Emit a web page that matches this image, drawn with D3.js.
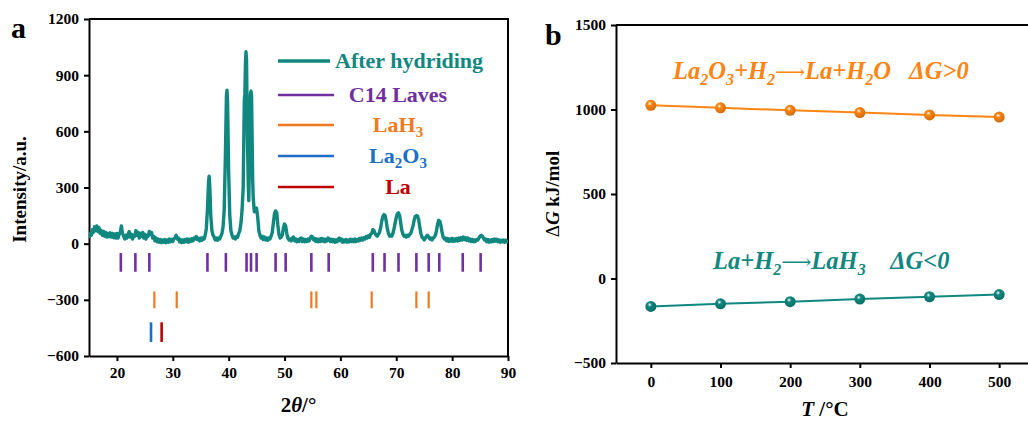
<!DOCTYPE html>
<meta charset="utf-8">
<style>
body { margin: 0; background: white; }
svg { font-family: "Liberation Serif", "Times New Roman", serif; }
.axis text { font-family: "Liberation Serif", "Times New Roman", serif; font-size: 15.5px; font-weight: bold; fill: black; }
.axis path, .axis line { stroke: black; stroke-width: 2px; }
</style>
<body>
<script src="https://d3js.org/d3.v7.min.js"></script>
<script>

// panel a: XRD pattern after hydriding, [2theta, intensity]
const xrdPattern = [
  [15.0,30],[15.2,55],[15.4,45],[15.6,75],[15.8,60],[16.0,90],[16.2,70],[16.4,95],[16.6,65],[16.8,85],
  [17.0,55],[17.2,70],[17.4,45],[17.6,65],[17.8,40],[18.0,60],[18.2,35],[18.4,55],[18.6,38],[18.8,58],
  [19.0,35],[19.2,55],[19.4,32],[19.6,52],[19.8,30],[20.0,55],[20.2,30],[20.4,50],[20.6,60],[20.8,95],
  [21.0,55],[21.2,40],[21.4,25],[21.6,45],[21.8,30],[22.0,50],[22.2,65],[22.4,35],[22.6,50],[22.8,25],
  [23.0,45],[23.2,40],[23.4,70],[23.6,45],[23.8,60],[24.0,30],[24.2,55],[24.4,40],[24.6,60],[24.8,30],
  [25.0,50],[25.2,25],[25.4,45],[25.6,40],[25.8,65],[26.0,50],[26.2,60],[26.4,30],[26.6,40],[26.8,15],
  [27.0,30],[27.2,10],[27.4,25],[27.6,8],[27.8,22],[28.0,5],[28.2,20],[28.4,8],[28.6,22],[28.8,5],
  [29.0,20],[29.2,8],[29.4,25],[29.6,10],[29.8,22],[30.0,12],[30.2,28],[30.4,30],[30.6,45],[30.8,25],
  [31.0,30],[31.2,10],[31.4,22],[31.6,5],[31.8,20],[32.0,8],[32.2,22],[32.4,10],[32.6,25],[32.8,8],
  [33.0,24],[33.2,12],[33.4,26],[33.6,15],[33.8,30],[34.0,25],[34.2,38],[34.4,22],[34.6,28],[34.8,15],
  [35.0,30],[35.2,18],[35.4,32],[35.6,25],[35.8,45],[36.0,80],[36.2,180],[36.4,330],[36.5,360],[36.6,320],
  [36.8,150],[37.0,70],[37.2,45],[37.4,35],[37.6,20],[37.8,30],[38.0,18],[38.2,30],[38.4,25],[38.6,40],
  [38.8,55],[39.0,90],[39.2,180],[39.4,450],[39.6,790],[39.7,820],[39.8,760],[40.0,380],[40.2,150],[40.4,70],
  [40.6,45],[40.8,30],[41.0,35],[41.2,25],[41.4,38],[41.6,35],[41.8,55],[42.0,70],[42.2,110],[42.4,180],
  [42.6,300],[42.8,760],[42.9,800],[43.0,960],[43.1,1025],[43.2,980],[43.3,700],[43.4,500],[43.5,330],[43.6,230],
  [43.7,400],[43.8,700],[43.9,800],[44.0,815],[44.1,790],[44.2,560],[44.3,340],[44.4,240],[44.6,170],[44.8,180],
  [45.0,190],[45.2,140],[45.4,70],[45.6,45],[45.8,30],[46.0,40],[46.2,22],[46.4,35],[46.6,20],[46.8,30],
  [47.0,18],[47.2,30],[47.4,25],[47.6,40],[47.8,60],[48.0,110],[48.2,160],[48.4,175],[48.6,165],[48.8,100],
  [49.0,50],[49.2,30],[49.4,35],[49.6,45],[49.8,85],[50.0,105],[50.2,95],[50.4,55],[50.6,30],[50.8,20],
  [51.0,25],[51.2,15],[51.4,30],[51.6,35],[51.8,15],[52.0,25],[52.2,10],[52.4,22],[52.6,12],[52.8,28],
  [53.0,30],[53.2,12],[53.4,25],[53.6,10],[53.8,22],[54.0,12],[54.2,25],[54.4,15],[54.6,30],[54.8,40],
  [55.0,35],[55.2,20],[55.4,28],[55.6,12],[55.8,25],[56.0,10],[56.2,24],[56.4,12],[56.6,28],[56.8,14],
  [57.0,25],[57.2,10],[57.4,24],[57.6,15],[57.8,30],[58.0,25],[58.2,12],[58.4,24],[58.6,10],[58.8,22],
  [59.0,8],[59.2,20],[59.4,10],[59.6,25],[59.8,30],[60.0,15],[60.2,25],[60.4,8],[60.6,20],[60.8,10],
  [61.0,22],[61.2,8],[61.4,20],[61.6,10],[61.8,24],[62.0,12],[62.2,22],[62.4,10],[62.6,25],[62.8,12],
  [63.0,22],[63.2,14],[63.4,28],[63.6,18],[63.8,30],[64.0,20],[64.2,32],[64.4,25],[64.6,38],[64.8,30],
  [65.0,42],[65.2,35],[65.4,50],[65.6,55],[65.8,75],[66.0,70],[66.2,55],[66.4,45],[66.6,40],[66.8,50],
  [67.0,60],[67.2,85],[67.4,120],[67.6,145],[67.8,155],[68.0,150],[68.2,120],[68.4,80],[68.6,55],[68.8,40],
  [69.0,45],[69.2,40],[69.4,55],[69.6,80],[69.8,110],[70.0,140],[70.2,160],[70.4,165],[70.6,150],[70.8,110],
  [71.0,70],[71.2,50],[71.4,40],[71.6,45],[71.8,35],[72.0,45],[72.2,40],[72.4,50],[72.6,55],[72.8,75],
  [73.0,95],[73.2,125],[73.4,145],[73.6,150],[73.8,148],[74.0,130],[74.2,90],[74.4,55],[74.6,35],[74.8,30],
  [75.0,20],[75.2,30],[75.4,40],[75.6,45],[75.8,35],[76.0,25],[76.2,30],[76.4,20],[76.6,30],[76.8,35],
  [77.0,45],[77.2,70],[77.4,105],[77.6,125],[77.8,120],[78.0,95],[78.2,60],[78.4,35],[78.6,25],[78.8,30],
  [79.0,15],[79.2,28],[79.4,12],[79.6,25],[79.8,14],[80.0,28],[80.2,12],[80.4,25],[80.6,15],[80.8,28],
  [81.0,14],[81.2,30],[81.4,18],[81.6,32],[81.8,20],[82.0,35],[82.2,22],[82.4,32],[82.6,18],[82.8,30],
  [83.0,15],[83.2,25],[83.4,12],[83.6,22],[83.8,10],[84.0,20],[84.2,12],[84.4,22],[84.6,20],[84.8,30],
  [85.0,40],[85.2,45],[85.4,40],[85.6,30],[85.8,20],[86.0,25],[86.2,10],[86.4,22],[86.6,8],[86.8,20],
  [87.0,10],[87.2,22],[87.4,12],[87.6,25],[87.8,14],[88.0,24],[88.2,10],[88.4,20],[88.6,8],[88.8,18],
  [89.0,10],[89.2,20],[89.4,8],[89.6,18],[89.8,10],[90.0,15]
]

// reference peak positions (2theta)
const c14Peaks = [20.7, 23.3, 25.8, 36.2, 39.5, 43.2, 44.0, 45.0, 48.4, 50.2, 54.8, 57.9,
  65.8, 67.9, 70.4, 73.6, 75.8, 77.7, 81.9, 85.1]
const lah3Peaks = [26.7, 30.7, 54.8, 55.7, 65.6, 73.6, 75.8]
const la2o3Peaks = [26.1]
const laPeaks = [28.0]

const phaseNames = ['C14 Laves', 'LaH3', 'La2O3', 'La']

// panel b: Gibbs free energy vs temperature
const temps = [0, 100, 200, 300, 400, 500]
const dgOxide = [1025, 1010, 995, 982, 968, 955]
const dgHydride = [-165, -150, -137, -122, -108, -95]

const xTicksA = [20, 30, 40, 50, 60, 70, 80, 90]
const yTicksA = [-600, -300, 0, 300, 600, 900, 1200]
const yTicksB = [-500, 0, 500, 1000, 1500]

const teal = '#10877f'
const purple = '#7030a0'
const orange = '#ef7a22'
const blue = '#1c6fc6'
const red = '#c00000'
const orangeB = '#ff8412'
const serif = '"Liberation Serif", "Times New Roman", serif'

const svg = d3.select('body').append('svg')
  .attr('width', 1028)
  .attr('height', 422)

function styleAxis(g) {
  g.attr('font-family', serif).attr('font-size', 15)
}

// ---------- panel a ----------
const xA = d3.scaleLinear().domain([15, 90]).range([89, 508])
const yA = d3.scaleLinear().domain([-600, 1200]).range([356, 19])

const gA = svg.append('g')

gA.append('g').attr('class', 'axis')
  .attr('transform', `translate(0,${yA(-600)})`)
  .call(d3.axisBottom(xA).tickValues(xTicksA).tickFormat(d3.format('d'))
    .tickSize(5).tickSizeOuter(0).tickPadding(6))
  .call(styleAxis)
gA.append('g').attr('class', 'axis')
  .attr('transform', `translate(${xA(15)},0)`)
  .call(d3.axisLeft(yA).tickValues(yTicksA).tickFormat(d3.format('d'))
    .tickSize(5).tickSizeOuter(0).tickPadding(5))
  .call(styleAxis)

// top and right frame
gA.append('path')
  .attr('d', `M${xA(15)},${yA(1200)}H${xA(90)}V${yA(-600)}`)
  .attr('fill', 'none').attr('stroke', 'black').attr('stroke-width', 2)

const clipA = svg.append('clipPath').attr('id', 'clipA')
clipA.append('rect').attr('x', xA(15)).attr('y', yA(1200))
  .attr('width', xA(90) - xA(15)).attr('height', yA(-600) - yA(1200))

gA.append('path')
  .datum(xrdPattern)
  .attr('clip-path', 'url(#clipA)')
  .attr('fill', 'none')
  .attr('stroke', teal)
  .attr('stroke-width', 3.4)
  .attr('stroke-linejoin', 'round')
  .attr('d', d3.line().x(d => xA(d[0])).y(d => yA(d[1])))

// phase tick rows
const rows = [
  { peaks: c14Peaks, color: purple, y0: -50, y1: -150, w: 2.6 },
  { peaks: lah3Peaks, color: orange, y0: -255, y1: -345, w: 2.2 },
  { peaks: la2o3Peaks, color: blue, y0: -420, y1: -525, w: 2.6 },
  { peaks: laPeaks, color: red, y0: -420, y1: -525, w: 2.6 }
]
rows.forEach(r => {
  gA.append('g').selectAll('line')
    .data(r.peaks)
    .join('line')
    .attr('x1', d => xA(d)).attr('x2', d => xA(d))
    .attr('y1', yA(r.y0)).attr('y2', yA(r.y1))
    .attr('stroke', r.color).attr('stroke-width', r.w)
})

// legend
const legend = gA.append('g')
const legendItems = [
  { name: 'After hydriding', color: teal, y: 61, w: 3.4 },
  { name: phaseNames[0], color: purple, y: 95, w: 2.4 },
  { name: phaseNames[1], color: orange, y: 125, w: 2.4 },
  { name: phaseNames[2], color: blue, y: 156, w: 2.4 },
  { name: phaseNames[3], color: red, y: 187, w: 2.4 }
]
legendItems.forEach((d, i) => {
  legend.append('line')
    .attr('x1', 278).attr('x2', i === 0 ? 330 : 334)
    .attr('y1', d.y).attr('y2', d.y)
    .attr('stroke', d.color).attr('stroke-width', d.w)
  const t = legend.append('text')
    .attr('y', d.y + 7)
    .attr('fill', d.color)
    .attr('font-weight', 'bold')
    .attr('font-size', 22)
  if (i === 0) {
    t.attr('x', 335).text(d.name)
  } else {
    t.attr('x', 398).attr('text-anchor', 'middle')
    // subscripts in formula names
    const parts = d.name.match(/[A-Za-z ]+|\d+/g)
    if (d.name === 'C14 Laves') {
      t.text(d.name)
    } else {
      parts.forEach(p => {
        const s = t.append('tspan').text(p)
        if (/^\d+$/.test(p)) s.attr('font-size', 15).attr('dy', 5)
        else s.attr('dy', t.selectAll('tspan').size() > 1 ? -5 : 0)
      })
    }
  }
})

gA.append('text').attr('x', 11).attr('y', 38)
  .attr('font-size', 30).attr('font-weight', 'bold').text('a')

gA.append('text')
  .attr('transform', `translate(26,${(yA(1200) + yA(-600)) / 2 + 2}) rotate(-90)`)
  .attr('text-anchor', 'middle')
  .attr('font-size', 19).attr('font-weight', 'bold')
  .text('Intensity/a.u.')

const xlabA = gA.append('text')
  .attr('x', (xA(15) + xA(90)) / 2).attr('y', 412)
  .attr('text-anchor', 'middle')
  .attr('font-size', 21).attr('font-weight', 'bold')
xlabA.append('tspan').text('2')
xlabA.append('tspan').attr('font-style', 'italic').text('θ')
xlabA.append('tspan').text('/°')

// ---------- panel b ----------
const xB = d3.scaleLinear().domain([-50, 550]).range([616, 1034])
const yB = d3.scaleLinear().domain([-500, 1500]).range([363, 25])

const gB = svg.append('g')

const defs = svg.append('defs')
function ballGradient(id, color) {
  const g = defs.append('radialGradient').attr('id', id)
    .attr('cx', '40%').attr('cy', '35%').attr('r', '65%')
  g.append('stop').attr('offset', '0%').attr('stop-color', '#ffffff')
  g.append('stop').attr('offset', '30%').attr('stop-color', color)
  g.append('stop').attr('offset', '100%').attr('stop-color', d3.color(color).darker(0.6))
}
ballGradient('ballOrange', orangeB)
ballGradient('ballTeal', teal)

gB.append('g').attr('class', 'axis')
  .attr('transform', `translate(0,${yB(-500)})`)
  .call(d3.axisBottom(xB).tickValues(temps).tickFormat(d3.format('d'))
    .tickSize(5).tickSizeOuter(0).tickPadding(8))
  .call(styleAxis)
gB.append('g').attr('class', 'axis')
  .attr('transform', `translate(${xB(-50)},0)`)
  .call(d3.axisLeft(yB).tickValues(yTicksB).tickFormat(d3.format('d'))
    .tickSize(5).tickSizeOuter(0).tickPadding(5))
  .call(styleAxis)

gB.append('path')
  .attr('d', `M${xB(-50)},${yB(1500)}H${xB(550)}V${yB(-500)}`)
  .attr('fill', 'none').attr('stroke', 'black').attr('stroke-width', 2)

const seriesB = [
  { values: dgOxide, color: orangeB, grad: 'ballOrange' },
  { values: dgHydride, color: teal, grad: 'ballTeal' }
]
const lineB = d3.line().x((d, i) => xB(temps[i])).y(d => yB(d))
seriesB.forEach(s => {
  gB.append('path').datum(s.values)
    .attr('fill', 'none').attr('stroke', s.color).attr('stroke-width', 2)
    .attr('d', lineB)
  gB.append('g').selectAll('circle')
    .data(s.values)
    .join('circle')
    .attr('cx', (d, i) => xB(temps[i]))
    .attr('cy', d => yB(d))
    .attr('r', 5.5)
    .attr('fill', `url(#${s.grad})`)
})

function formula(sel, pieces) {
  pieces.forEach(p => {
    const t = sel.append('tspan').text(p.t)
    if (p.sub) t.attr('font-size', 16).attr('dy', 6)
    if (p.up) t.attr('dy', -6)
    if (p.arrow) t.attr('font-family', 'DejaVu Serif').attr('font-style', 'normal')
      .attr('font-weight', 'normal').attr('font-size', 21)
  })
}

const eqOxide = gB.append('text')
  .attr('x', 673).attr('y', 79)
  .attr('fill', orangeB).attr('font-size', 24.5)
  .attr('font-weight', 'bold').attr('font-style', 'italic')
formula(eqOxide, [
  { t: 'La' }, { t: '2', sub: true }, { t: 'O', up: true }, { t: '3', sub: true },
  { t: '+H', up: true }, { t: '2', sub: true }, { t: '\u27f6', up: true, arrow: true },
  { t: 'La+H' }, { t: '2', sub: true },
  { t: 'O\u00a0\u00a0\u00a0\u0394G>0', up: true }
])

const eqHydride = gB.append('text')
  .attr('x', 713).attr('y', 269)
  .attr('fill', teal).attr('font-size', 24.5)
  .attr('font-weight', 'bold').attr('font-style', 'italic')
formula(eqHydride, [
  { t: 'La+H' }, { t: '2', sub: true }, { t: '\u27f6', up: true, arrow: true },
  { t: 'LaH' }, { t: '3', sub: true },
  { t: '\u00a0\u00a0\u00a0\u00a0\u0394G<0', up: true }
])

gB.append('text').attr('x', 545).attr('y', 45)
  .attr('font-size', 30).attr('font-weight', 'bold').text('b')

const ylabB = gB.append('text')
  .attr('transform', `translate(559,${(yB(1500) + yB(-500)) / 2}) rotate(-90)`)
  .attr('text-anchor', 'middle')
  .attr('font-size', 19).attr('font-weight', 'bold')
ylabB.append('tspan').attr('font-weight', 'normal').text('\u0394')
ylabB.append('tspan').attr('font-style', 'italic').text('G')
ylabB.append('tspan').text(' kJ/mol')

const xlabB = gB.append('text')
  .attr('x', 825).attr('y', 416)
  .attr('text-anchor', 'middle')
  .attr('font-size', 21).attr('font-weight', 'bold')
xlabB.append('tspan').attr('font-style', 'italic').text('T')
xlabB.append('tspan').text(' /°C')

</script>
</body>
</html>
